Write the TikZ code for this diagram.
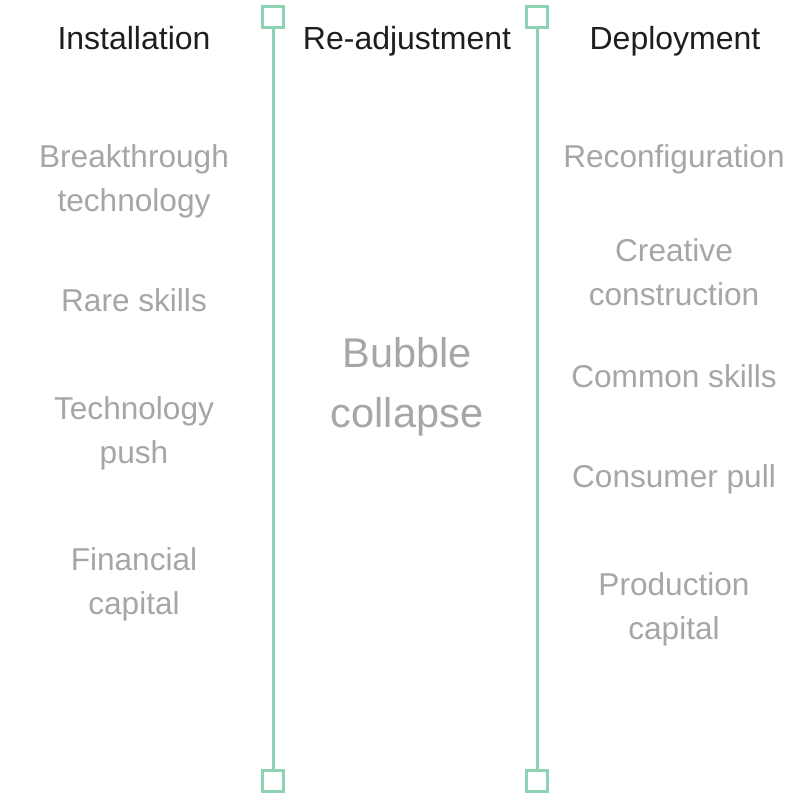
\documentclass[tikz,border=0pt]{standalone}
\usepackage{fontspec}
\setmainfont{Liberation Sans}
\definecolor{mint}{HTML}{8ED2B4}
\definecolor{soft}{HTML}{A6A6A6}
\definecolor{ink}{HTML}{1E1E1E}
\tikzset{
  head/.style={anchor=base, inner sep=0pt, text=ink, font=\fontsize{32}{44}\selectfont},
  item/.style={anchor=base, inner sep=0pt, align=center, text=soft, font=\fontsize{31.6}{44}\selectfont},
  mark box/.style={draw=mint, line width=3pt, rectangle, minimum size=21pt, inner sep=0pt, fill=white}
}
\begin{document}
\begin{tikzpicture}[x=1pt, y=-1pt]
\useasboundingbox (0,0) rectangle (800,800);
\node[mark box] (t1) at (273,17.5) {};
\node[mark box] (b1) at (273,781) {};
\node[mark box] (t2) at (537,17.5) {};
\node[mark box] (b2) at (537,781) {};

\path[draw,mint,line width=3pt] (t1) -- (b1);
\path[draw,mint,line width=3pt] (t2) -- (b2);

\node[head] (install) at (134,49) {Installation};
\node[head] (readjust) at (407,49) {Re-adjustment};
\node[head] (deploy) at (675,49) {Deployment};

\node[item] (breakthrough) at (134,211) {Breakthrough\\technology};
\node[item] (rare) at (134,311) {Rare skills};
\node[item] (push) at (134,463) {Technology\\push};
\node[item] (financial) at (134,614) {Financial\\capital};

\node[item, font=\fontsize{41.5}{60}\selectfont] (bubble) at (407,427) {Bubble\\collapse};

\node[item] (reconfig) at (674,167) {Reconfiguration};
\node[item] (creative) at (674,305) {Creative\\construction};
\node[item] (common) at (674,387) {Common skills};
\node[item] (pull) at (674,487) {Consumer pull};
\node[item] (production) at (674,639) {Production\\capital};
\end{tikzpicture}
\end{document}
